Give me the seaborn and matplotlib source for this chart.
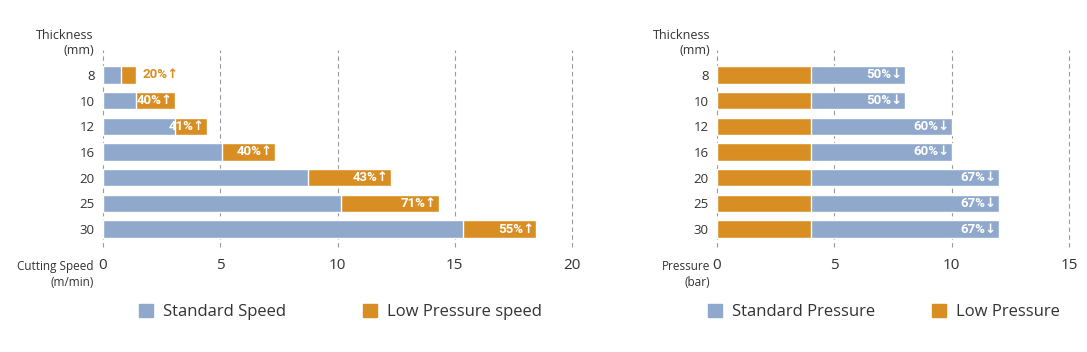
import matplotlib
matplotlib.use("Agg")
import matplotlib.pyplot as plt
import seaborn as sns
from matplotlib.patches import Patch

# data
thickness = ["8", "10", "12", "16", "20", "25", "30"]
standard_speed = [0.75, 1.42, 3.06, 5.08, 8.73, 10.14, 15.35]
low_pressure_speed = [1.42, 3.06, 4.45, 7.34, 12.27, 14.33, 18.48]
speed_gain = ["20%", "40%", "41%", "40%", "43%", "71%", "55%"]

standard_pressure = [8, 8, 10, 10, 12, 12, 12]
low_pressure = [4, 4, 4, 4, 4, 4, 4]
pressure_drop = ["50%", "50%", "60%", "60%", "67%", "67%", "67%"]

BLUE = "#8FA8CB"
ORANGE = "#D98E23"
TEXT = "#333333"
FONT = ["Open Sans", "DejaVu Sans"]
LABEL_FONT = ["Roboto", "DejaVu Sans"]

sns.set_style("white")
plt.rcParams["font.family"] = FONT

fig = plt.figure(figsize=(10.87, 3.52), dpi=100)
ax1 = fig.add_axes([0.0948, 0.2983, 0.4315, 0.5597])
ax2 = fig.add_axes([0.6596, 0.2983, 0.3238, 0.5597])


def style_axis(ax, xmax, xlabel):
    ax.set_xlim(0, xmax)
    ax.set_ylim(6.7, -0.97)
    ax.set_xticks(range(0, xmax + 1, 5))
    for x in range(0, xmax + 1, 5):
        ax.axvline(x, color="#9a9a9a", lw=0.8, ls=(0, (4, 3)), zorder=0,
                   clip_on=False)
    for s in ax.spines.values():
        s.set_visible(False)
    ax.tick_params(axis="x", length=0, pad=8, labelsize=11, colors=TEXT)
    ax.tick_params(axis="y", length=0, pad=6, labelsize=9.5, colors=TEXT)
    ax.set_xlabel("")
    ax.set_ylabel("")
    ax.text(-0.02, 1.036, "Thickness\n(mm)", transform=ax.transAxes, ha="right",
            va="center", fontsize=9, color=TEXT, linespacing=1.25)
    ax.text(-0.02, -0.065, xlabel, transform=ax.transAxes, ha="right",
            va="top", fontsize=8.5, color=TEXT, linespacing=1.3)


# left: cutting speed
sns.barplot(x=low_pressure_speed, y=thickness, color=ORANGE, width=0.67,
            saturation=1, ax=ax1, zorder=2)
sns.barplot(x=standard_speed, y=thickness, color=BLUE, width=0.67,
            saturation=1, ax=ax1, zorder=3)
style_axis(ax1, 20, "Cutting Speed\n(m/min)")
for i, (s, l, g) in enumerate(zip(standard_speed, low_pressure_speed, speed_gain)):
    if l - s < 1.0:
        ax1.text(l + 0.25, i, g + "↑", ha="left", va="center", fontsize=9.5,
                 fontweight="bold", color=ORANGE, zorder=4, family=LABEL_FONT)
    else:
        ax1.text(l - 0.1, i, g + "↑", ha="right", va="center", fontsize=9.5,
                 fontweight="bold", color="white", zorder=4, family=LABEL_FONT)

# right: pressure
sns.barplot(x=standard_pressure, y=thickness, color=BLUE, width=0.67,
            saturation=1, ax=ax2, zorder=2)
sns.barplot(x=low_pressure, y=thickness, color=ORANGE, width=0.67,
            saturation=1, ax=ax2, zorder=3)
style_axis(ax2, 15, "Pressure\n(bar)")
for i, (s, d) in enumerate(zip(standard_pressure, pressure_drop)):
    ax2.text(s - 0.1, i, d + "↓", ha="right", va="center", fontsize=9.5,
             fontweight="bold", color="white", zorder=4, family=LABEL_FONT)

legend_kw = dict(ncol=2, frameon=False, fontsize=12, handlelength=0.85,
                 handleheight=0.85, handletextpad=0.6, labelcolor=TEXT)
fig.legend(handles=[Patch(color=BLUE, label="Standard Speed"),
                    Patch(color=ORANGE, label="Low Pressure speed")],
           loc="center", bbox_to_anchor=(0.313, 0.1136), columnspacing=4.6,
           **legend_kw)
fig.legend(handles=[Patch(color=BLUE, label="Standard Pressure"),
                    Patch(color=ORANGE, label="Low Pressure")],
           loc="center", bbox_to_anchor=(0.813, 0.1136), columnspacing=3.4,
           **legend_kw)

fig.savefig("out.png", dpi=100)
